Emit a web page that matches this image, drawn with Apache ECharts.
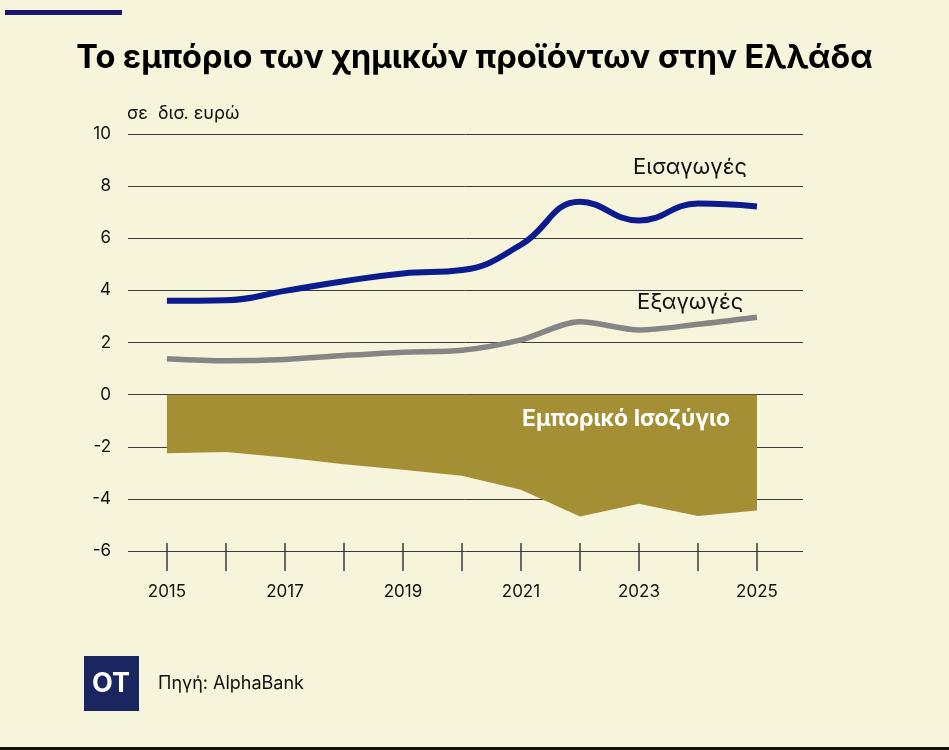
<!DOCTYPE html>
<html>
<head>
<meta charset="utf-8">
<script src="https://cdn.jsdelivr.net/npm/echarts@6/dist/echarts.min.js"></script>
<style>
  html, body { margin: 0; padding: 0; background: #f6f4da; }
  #main { width: 949px; height: 750px; }
</style>
</head>
<body>
<div id="main"></div>
<script>
// values, in billion euro
var years = [2015, 2016, 2017, 2018, 2019, 2020, 2021, 2022, 2023, 2024, 2025];
var imports = [3.6, 3.62, 3.98, 4.35, 4.65, 4.78, 5.75, 7.4, 6.68, 7.33, 7.22];
var exports = [1.38, 1.3, 1.35, 1.5, 1.63, 1.7, 2.1, 2.8, 2.48, 2.7, 2.97];
var balance = [-2.25, -2.2, -2.41, -2.67, -2.88, -3.11, -3.65, -4.68, -4.19, -4.66, -4.45];
var yearLabels = [2015, 2017, 2019, 2021, 2023, 2025];

function pairs(vals) {
	var out = [];
	for (var i = 0; i < years.length; i++) {
		out.push([years[i], vals[i]]);
	}
	return out;
}

var font = 'Inter, Roboto, sans-serif';

var option = {
	backgroundColor: '#f6f4da',
	title: {
		text: 'Το εμπόριο των χημικών προϊόντων στην Ελλάδα',
		left: 'center',
		top: 37,
		textStyle: {
			fontFamily: font,
			fontWeight: 'bold',
			fontSize: 32.5,
			color: '#000'
		}
	},
	grid: { left: 128, right: 146, top: 134, bottom: 199 },
	xAxis: {
		type: 'value',
		min: 2014.34,
		max: 2025.78,
		offset: -8,
		axisLine: { show: false, onZero: false },
		splitLine: { show: false },
		axisTick: {
			show: true,
			length: 28,
			customValues: years,
			lineStyle: { color: '#3a3a3a', width: 1.5 }
		},
		axisLabel: {
			customValues: yearLabels,
			margin: 40,
			formatter: function (v) { return String(v); },
			fontFamily: font,
			fontSize: 17,
			color: '#111'
		}
	},
	yAxis: {
		type: 'value',
		min: -6,
		max: 10,
		interval: 2,
		axisLine: { show: false },
		axisTick: { show: false },
		splitLine: { lineStyle: { color: '#3a3a3a', width: 1 } },
		axisLabel: {
			margin: 17,
			fontFamily: font,
			fontSize: 17,
			color: '#111'
		}
	},
	series: [
		{
			name: 'Εμπορικό Ισοζύγιο',
			type: 'line',
			data: pairs(balance),
			symbol: 'none',
			lineStyle: { width: 0 },
			areaStyle: { color: '#a48f35', opacity: 1 },
			z: 1
		},
		{
			name: 'Εξαγωγές',
			type: 'line',
			data: pairs(exports),
			smooth: 0.3,
			symbol: 'none',
			lineStyle: { color: '#858585', width: 5.5 },
			z: 3
		},
		{
			name: 'Εισαγωγές',
			type: 'line',
			data: pairs(imports),
			smooth: 0.45,
			symbol: 'none',
			lineStyle: { color: '#0b1c8e', width: 6 },
			z: 4
		}
	],
	graphic: [
		{ type: 'rect', left: 5, top: 10, shape: { width: 117, height: 5 }, style: { fill: '#16196a' } },
		{ type: 'text', left: 127, top: 105, style: { text: 'σε  δισ. ευρώ', font: '18px ' + font, fill: '#111' } },
		{ type: 'text', left: 633, top: 156, style: { text: 'Εισαγωγές', font: '22px ' + font, fill: '#111' } },
		{ type: 'text', left: 637, top: 291, style: { text: 'Εξαγωγές', font: '22px ' + font, fill: '#111' } },
		{ type: 'text', left: 522, top: 408, z: 10, style: { text: 'Εμπορικό Ισοζύγιο', font: 'bold 23px ' + font, fill: '#fff' } },
		{ type: 'rect', left: 84, top: 656, shape: { width: 55, height: 55 }, style: { fill: '#1a2660' } },
		{ type: 'text', x: 111, y: 684, z: 10, style: { text: 'OT', font: 'bold 27px ' + font, fill: '#fff', align: 'center', verticalAlign: 'middle' } },
		{ type: 'text', left: 158, top: 675, style: { text: 'Πηγή: AlphaBank', font: '18px ' + font, fill: '#111' } },
		{ type: 'rect', left: 0, top: 747, shape: { width: 949, height: 3 }, style: { fill: '#111' } }
	]
};

var myChart = echarts.init(document.getElementById('main'));
myChart.setOption(option);
</script>
</body>
</html>
